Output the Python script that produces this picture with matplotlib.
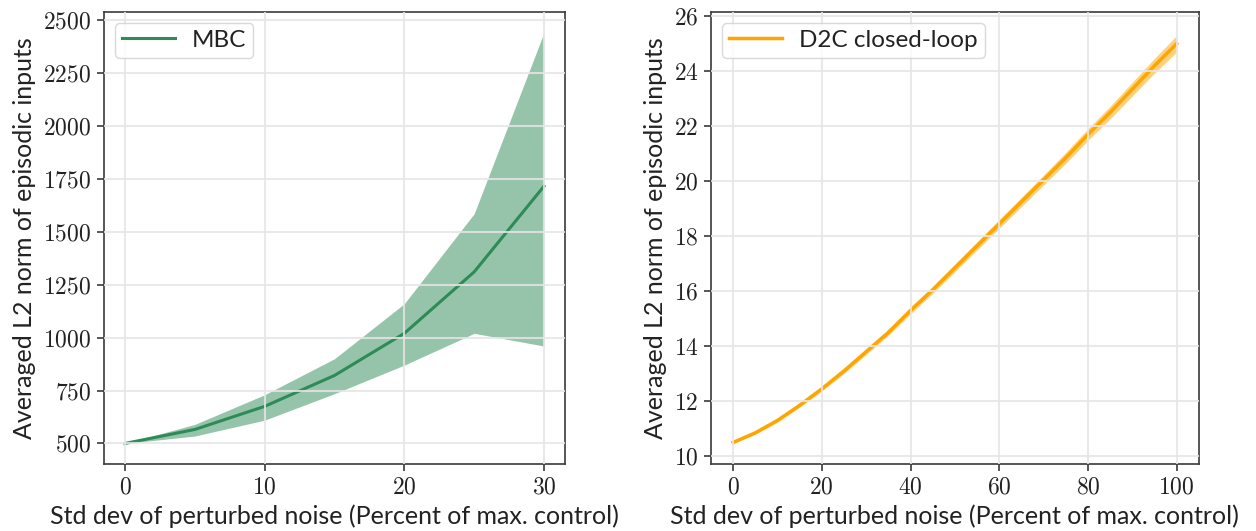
import matplotlib
matplotlib.use("Agg")
import matplotlib.pyplot as plt
from matplotlib.ticker import FuncFormatter

# ---- data ----
mbc_x = [0, 5, 10, 15, 20, 25, 30]
mbc_mean = [500, 566, 675, 821, 1020, 1310, 1715]
mbc_upper = [500, 590, 730, 900, 1160, 1585, 2440]
mbc_lower = [500, 535, 610, 735, 870, 1020, 960]

d2c_x = [0, 5, 10, 15, 20, 25, 30, 35, 40, 45, 50,
         55, 60, 65, 70, 75, 80, 85, 90, 95, 100]
d2c_mean = [10.5, 10.85, 11.3, 11.85, 12.45, 13.1, 13.8, 14.5, 15.3, 16.05, 16.85,
            17.65, 18.45, 19.25, 20.05, 20.85, 21.7, 22.5, 23.35, 24.2, 25.0]
d2c_halfwidth = [0.04, 0.05, 0.06, 0.07, 0.08, 0.09, 0.1, 0.11, 0.12, 0.13, 0.14,
                 0.15, 0.16, 0.17, 0.18, 0.2, 0.21, 0.23, 0.25, 0.27, 0.3]

xlabel = "Std dev of perturbed noise (Percent of max. control)"
ylabel = "Averaged L2 norm of episodic inputs"

plt.rcParams['mathtext.fontset'] = 'cm'
plt.rcParams['font.family'] = ['Lato', 'DejaVu Sans']

fig = plt.figure(figsize=(12.56, 5.31), dpi=100)
ax1 = fig.add_axes([0.0828, 0.1262, 0.367, 0.851])
ax2 = fig.add_axes([0.566, 0.1262, 0.3885, 0.851])

green = '#2e8b57'
orange = '#ffa500'

ax1.plot(mbc_x, mbc_mean, color=green, lw=2.2, label='MBC')
ax1.fill_between(mbc_x, mbc_lower, mbc_upper, color=green, alpha=0.5, lw=0)

lo = [m - h for m, h in zip(d2c_mean, d2c_halfwidth)]
hi = [m + h for m, h in zip(d2c_mean, d2c_halfwidth)]
ax2.plot(d2c_x, d2c_mean, color=orange, lw=2.5, label='D2C closed-loop')
ax2.fill_between(d2c_x, lo, hi, color=orange, alpha=0.5, lw=0)

ax1.set_yticks([500, 750, 1000, 1250, 1500, 1750, 2000, 2250, 2500])
ax1.set_xticks([0, 10, 20, 30])
ax2.set_yticks([10, 12, 14, 16, 18, 20, 22, 24, 26])
ax2.set_xticks([0, 20, 40, 60, 80, 100])

fmt = FuncFormatter(lambda v, p: r'$%g$' % v)
for ax in (ax1, ax2):
    ax.xaxis.set_major_formatter(fmt)
    ax.yaxis.set_major_formatter(fmt)
    ax.set_axisbelow(False)
    ax.grid(True, color='#e6e6e6', lw=1.5, alpha=0.85)
    for s in ax.spines.values():
        s.set_color('#3a3a3a')
        s.set_linewidth(1.2)
    ax.tick_params(labelsize=17, length=5, width=1.2, color='#3a3a3a',
                   labelcolor='#222222', pad=4)
    ax.set_xlabel(xlabel, fontsize=18, color='#222222', labelpad=5)
    ax.set_ylabel(ylabel, fontsize=18, color='#222222', labelpad=5)
    leg = ax.legend(loc='upper left', fontsize=17.5, frameon=True,
                    handlelength=2.2, borderpad=0.28, borderaxespad=0.45,
                    handletextpad=0.7, fancybox=True)
    leg.get_frame().set_edgecolor('#d0d0d0')
    for t in leg.get_texts():
        t.set_color('#222222')

ax2.set_ylim(top=26.15)

fig.savefig('out.png', dpi=100)
